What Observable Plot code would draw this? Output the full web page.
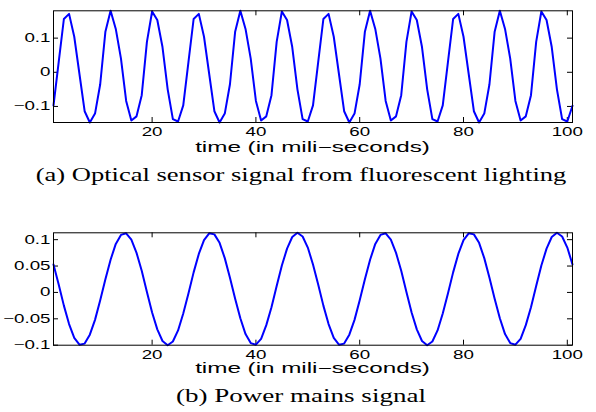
<!DOCTYPE html>
<html><head><meta charset="utf-8">
<script src="https://cdn.jsdelivr.net/npm/d3@7"></script>
<script src="https://cdn.jsdelivr.net/npm/@observablehq/plot@0.6"></script>
<style>
html,body{margin:0;padding:0;background:#fff;}
#wrap{position:relative;width:596px;height:412px;overflow:hidden;background:#fff;}
#wrap svg{position:absolute;left:0;}
</style></head><body><div id="wrap"></div>
<script>
// (a) optical sensor signal, one sample per ms, t = 1..101
const sensorSignal = [
 -0.097, 0.030, 0.156, 0.171, 0.104, -0.005, -0.114, -0.147, -0.121, -0.035,
  0.119, 0.180, 0.127, 0.040, -0.084, -0.141, -0.129, -0.067, 0.089, 0.178,
  0.153, 0.074, -0.050, -0.137, -0.144,
 -0.097, 0.030, 0.156, 0.171, 0.104, -0.005, -0.114, -0.147, -0.121, -0.035,
  0.119, 0.180, 0.127, 0.040, -0.084, -0.141, -0.129, -0.067, 0.089, 0.178,
  0.153, 0.074, -0.050, -0.137, -0.144,
 -0.097, 0.030, 0.156, 0.171, 0.104, -0.005, -0.114, -0.147, -0.121, -0.035,
  0.119, 0.180, 0.127, 0.040, -0.084, -0.141, -0.129, -0.067, 0.089, 0.178,
  0.153, 0.074, -0.050, -0.137, -0.144,
 -0.097, 0.030, 0.156, 0.171, 0.104, -0.005, -0.114, -0.147, -0.121, -0.035,
  0.119, 0.180, 0.127, 0.040, -0.084, -0.141, -0.129, -0.067, 0.089, 0.178,
  0.153, 0.074, -0.050, -0.137, -0.144,
 -0.098
];
// (b) power mains signal, t = 1..101
const mainsSignal = [
  0.053, 0.015, -0.025, -0.060, -0.086, -0.099, -0.097, -0.080, -0.052, -0.015,
  0.025, 0.062, 0.092, 0.109, 0.112, 0.100, 0.075, 0.041, 0.001, -0.038,
 -0.070, -0.092, -0.100, -0.093, -0.072, -0.040, -0.002, 0.038, 0.073, 0.099,
  0.112, 0.110, 0.094, 0.065, 0.028, -0.012, -0.049, -0.079, -0.096, -0.099,
 -0.088, -0.062, -0.028, 0.012, 0.051, 0.083, 0.105, 0.113, 0.106, 0.085,
  0.053, 0.015, -0.025, -0.060, -0.086, -0.099, -0.097, -0.080, -0.052, -0.015,
  0.025, 0.062, 0.092, 0.109, 0.112, 0.100, 0.075, 0.041, 0.001, -0.038,
 -0.070, -0.092, -0.100, -0.093, -0.072, -0.040, -0.002, 0.038, 0.073, 0.099,
  0.112, 0.110, 0.094, 0.065, 0.028, -0.012, -0.049, -0.079, -0.096, -0.099,
 -0.088, -0.062, -0.028, 0.012, 0.051, 0.083, 0.105, 0.113, 0.106, 0.085,
  0.053
];
const xTicks = [20, 40, 60, 80, 100];
const xTickLabels = ["20", "40", "60", "80", "100"];
const sensorYTicks = [-0.1, 0, 0.1];
const sensorYTickLabels = ["\u22120.1", "0", "0.1"];
const mainsYTicks = [-0.1, -0.05, 0, 0.05, 0.1];
const mainsYTickLabels = ["\u22120.1", "\u22120.05", "0", "0.05", "0.1"];
const xLabel = "time (in mili\u2212seconds)";
const captionA = "(a) Optical sensor signal from fluorescent lighting";
const captionB = "(b) Power mains signal";

const W = 596, ML = 53, MR = 24, PH = 160;
const wrap = document.getElementById("wrap");

function stretch(el, factor) {
  const bb = el.getBBox();
  const anchor = getComputedStyle(el).textAnchor;
  const ox = anchor === "end" ? bb.x + bb.width : anchor === "middle" ? bb.x + bb.width / 2 : bb.x;
  const t = el.getAttribute("transform") || "";
  el.setAttribute("transform", `${t} translate(${ox},0) scale(${factor},1) translate(${-ox},0)`);
}

function panel(values, yTicks, yLabels, top, mt, mb) {
  const fw = W - ML - MR, fh = PH - mt - mb;
  const data = values.map((v, i) => ({t: i + 1, v}));
  const svg = Plot.plot({
    width: W, height: PH,
    marginTop: mt, marginBottom: mb, marginLeft: ML, marginRight: MR,
    style: {fontFamily: "'Liberation Sans', Arial, sans-serif", fontSize: "12.5px", color: "black", background: "transparent", overflow: "visible"},
    x: {domain: [1, values.length]},
    y: {domain: d3.extent(values)},
    marks: [
      Plot.axisX(xTicks, {anchor: "bottom", tickSize: 0, tickPadding: 5, label: null,
        tickFormat: d => xTickLabels[xTicks.indexOf(d)]}),
      Plot.axisY(yTicks, {anchor: "left", tickSize: 0, tickPadding: 3, label: null,
        tickFormat: d => yLabels[yTicks.indexOf(d)]}),
      Plot.ruleX(xTicks, {x: d => d, insetTop: fh - 5, stroke: "black"}),
      Plot.ruleX(xTicks, {x: d => d, insetBottom: fh - 5, stroke: "black"}),
      Plot.ruleY(yTicks, {y: d => d, insetRight: fw - 5, stroke: "black"}),
      Plot.ruleY(yTicks, {y: d => d, insetLeft: fw - 5, stroke: "black"}),
      Plot.line(data, {x: "t", y: "v", stroke: "#0000ff", strokeWidth: 2}),
      Plot.frame({stroke: "black", strokeWidth: 1})
    ]
  });
  svg.style.top = top + "px";
  wrap.appendChild(svg);
  svg.querySelectorAll("text").forEach(el => stretch(el, 1.5));
}

panel(sensorSignal, sensorYTicks, sensorYTickLabels, 0, 10.3, 38);
panel(mainsSignal, mainsYTicks, mainsYTickLabels, 222, 10.3, 37.3);

const ov = d3.select(wrap).append("svg")
  .attr("width", W).attr("height", 412).style("top", "0px");
function addText(str, x, y, font, size, target) {
  const el = ov.append("text").attr("x", x).attr("y", y)
    .attr("text-anchor", "middle").attr("font-family", font)
    .attr("font-size", size).attr("fill", "black").text(str).node();
  stretch(el, target / el.getBBox().width);
}
const sans = "'Liberation Sans', Arial, sans-serif";
const serif = "'Liberation Serif', 'Times New Roman', serif";
addText(xLabel, 312.5, 152.5, sans, 14, 235);
addText(captionA, 301, 181.5, serif, 18, 531);
addText(xLabel, 312.5, 373, sans, 14, 235);
addText(captionB, 301, 402, serif, 18, 250);
</script></body></html>
